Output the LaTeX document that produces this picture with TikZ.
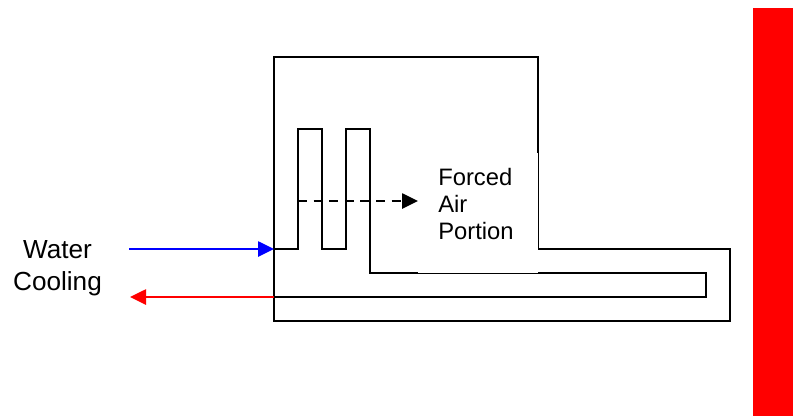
\documentclass[tikz,border=0pt]{standalone}
\usepackage{fontspec}
\setmainfont{Liberation Sans}
\usetikzlibrary{arrows.meta}
\tikzset{
	pipe/.style={line width=.05cm},
	flowtip/.style={-{Triangle[length=.4cm,width=.38cm]}},
	lbl/.style={font=\fontsize{16.9}{19.5}\selectfont,inner sep=0pt},
	lblbig/.style={font=\fontsize{18.6}{22.5}\selectfont,inner sep=0pt}
}

\begin{document}
\begin{tikzpicture}[x=.025cm,y=-.025cm]
		\useasboundingbox (0,0) rectangle (793,416);
		\fill[red] (753,8) rectangle (793,416);
		% housing and water channel
		\draw[pipe,line join=miter] (274,57) -- (538,57) -- (538,249) -- (730,249) -- (730,321) -- (274,321) -- cycle;
		\draw[pipe] (274,249) -- (298,249) -- (298,129) -- (322,129) -- (322,249) -- (346,249) -- (346,129) -- (370,129) -- (370,273) -- (706,273) -- (706,297) -- (274,297);
		\fill[white] (418,153) rectangle (538,273);
		% labels
		\node[lbl,align=left,anchor=west] (air) at (438,204) {Forced\\Air\\Portion};
		\node[lblbig,align=center] (water) at (57.5,268.5) {Water\\Cooling};
		% flows
		\coordinate (airin) at (298,201);
		\coordinate (airout) at (418,201);
		\coordinate (coldin) at (129,249);
		\coordinate (coldout) at (274,249);
		\coordinate (hotin) at (274,297);
		\coordinate (hotout) at (130,297);
		\draw[pipe,flowtip,dash pattern=on .23cm off .16cm] (airin) -- (airout);
		\draw[pipe,flowtip,blue] (coldin) -- (coldout);
		\draw[pipe,flowtip,red] (hotin) -- (hotout);
	\end{tikzpicture}
\end{document}
